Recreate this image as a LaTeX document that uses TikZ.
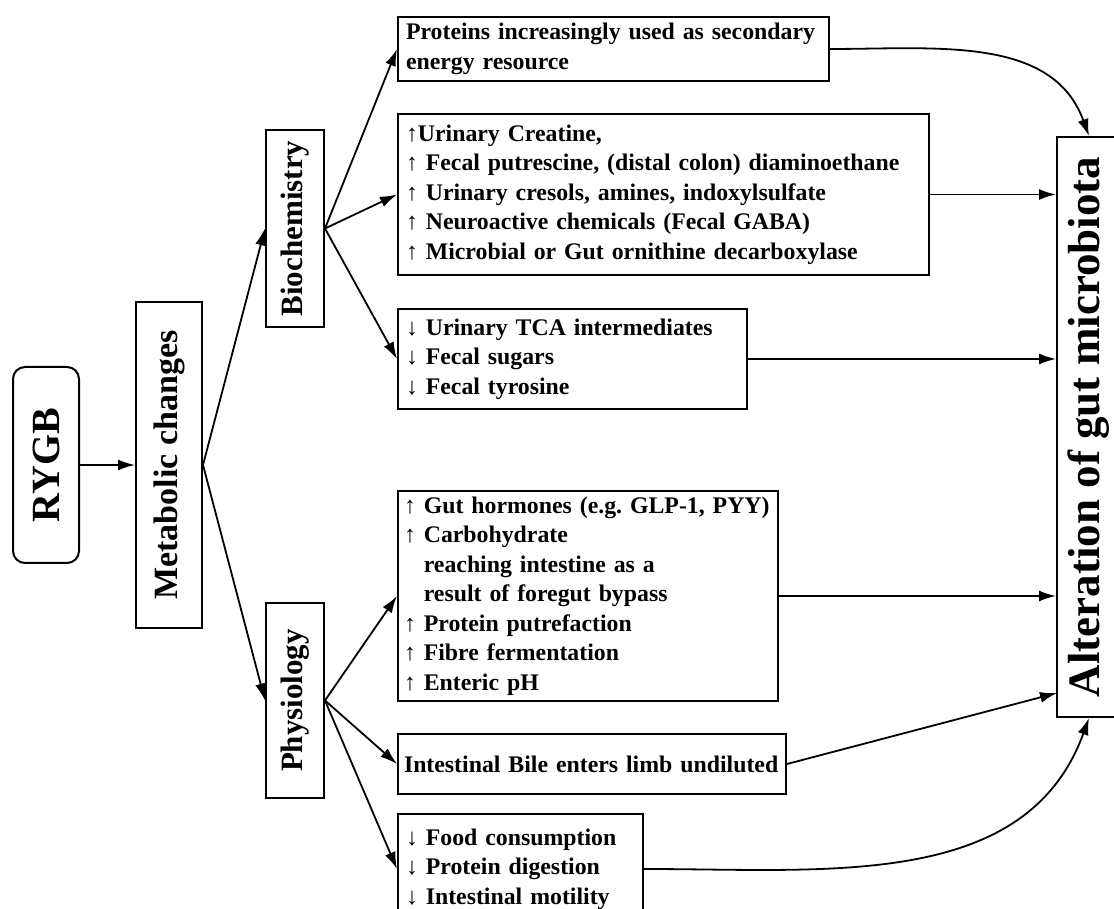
\documentclass[tikz,border=0pt]{standalone}
\usepackage{fontspec}
\setmainfont{Liberation Serif}
\usetikzlibrary{arrows.meta}

\begin{document}
\begin{tikzpicture}[x=1pt, y=1pt, line width=2pt,
  txtbox/.style={draw, anchor=north west, align=left, inner xsep=8pt,
    inner ysep=0pt, font=\bfseries\fontsize{23.8}{29.5}\selectfont\frenchspacing},
  vbox/.style={draw, inner sep=0pt},
  link/.style={line width=1.8pt, -{Latex[length=17pt,width=11pt]}}]
  \useasboundingbox (0,0) rectangle (1114,909);

  % Left column
  \node[vbox, rounded corners=12pt, minimum width=66pt, minimum height=196pt,
        font=\bfseries\fontsize{40}{40}\selectfont] (rygb) at (46,444)
    {\rotatebox{90}{RYGB}};
  \node[vbox, minimum width=66pt, minimum height=326pt,
        font=\bfseries\fontsize{34}{34}\selectfont] (metab) at (169,444)
    {\rotatebox{90}{Metabolic changes}};
  \node[vbox, minimum width=58pt, minimum height=197pt,
        font=\bfseries\fontsize{31}{31}\selectfont] (bio) at (295,680.5)
    {\rotatebox{90}{Biochemistry}};
  \node[vbox, minimum width=58pt, minimum height=195pt,
        font=\bfseries\fontsize{31}{31}\selectfont] (phys) at (295,208.5)
    {\rotatebox{90}{Physiology}};

  % Biochemistry boxes
  \node[txtbox, text width=415pt, minimum height=64pt] (prot) at (397,893)
    {Proteins increasingly used as secondary\\energy resource};
  \node[txtbox, text width=515pt, minimum height=161pt] (urin) at (397,796)
    {↑Urinary Creatine,\\
     ↑ Fecal putrescine, (distal colon) diaminoethane\\
     ↑ Urinary cresols, amines, indoxylsulfate\\
     ↑ Neuroactive chemicals (Fecal GABA)\\
     ↑ Microbial or Gut ornithine decarboxylase};
  \node[txtbox, text width=333pt, minimum height=100pt] (tca) at (397,601)
    {↓ Urinary TCA intermediates\\
     ↓ Fecal sugars\\
     ↓ Fecal tyrosine};

  % Physiology boxes
  \node[txtbox, inner xsep=6pt, text width=368pt, minimum height=210pt] (horm)
    at (397,419)
    {\mbox{↑ Gut hormones (e.g. GLP-1, PYY)}\\
     ↑ Carbohydrate\\
     \phantom{↑ }reaching intestine as a\\
     \phantom{↑ }result of foregut bypass\\
     ↑ Protein putrefaction\\
     ↑ Fibre fermentation\\
     ↑ Enteric pH};
  \node[txtbox, inner xsep=4pt, text width=380pt, minimum height=60pt] (bile)
    at (397,176)
    {\mbox{\hspace{2pt}Intestinal Bile enters limb undiluted}};
  \node[txtbox, text width=229pt, minimum height=110pt] (food) at (397,96)
    {↓ Food consumption\\
     ↓ Protein digestion\\
     ↓ Intestinal motility};

  % Right box
  \node[vbox, minimum width=64pt, minimum height=580pt,
        font=\bfseries\fontsize{45}{45}\selectfont] (alt) at (1089,482)
    {\rotatebox{90}{Alteration of gut microbiota}};
  \coordinate (altin) at (1057,216);

  % Connectors
  \draw[link] (rygb) -- (metab);
  \draw[link] (metab.east) -- (bio.west);
  \draw[link] (metab.east) -- (phys.west);
  \draw[link] (bio.east) -- (prot.west);
  \draw[link] (bio.east) -- (urin.west);
  \draw[link] (bio.east) -- (tca.west);
  \draw[link] (phys.east) -- (horm.west);
  \draw[link] (phys.east) -- (bile.west);
  \draw[link] (phys.east) -- (food.west);

  \draw[link] (prot.east) to[out=0, in=110] (alt.north);
  \draw[link] (urin.east) -- (urin.east -| alt.west);
  \draw[link] (tca.east) -- (tca.east -| alt.west);
  \draw[link] (horm.east) -- (horm.east -| alt.west);
  \draw[link] (bile.east) -- (altin);
  \draw[link] (food.east) to[out=0, in=-110] (alt.south);
\end{tikzpicture}
\end{document}
